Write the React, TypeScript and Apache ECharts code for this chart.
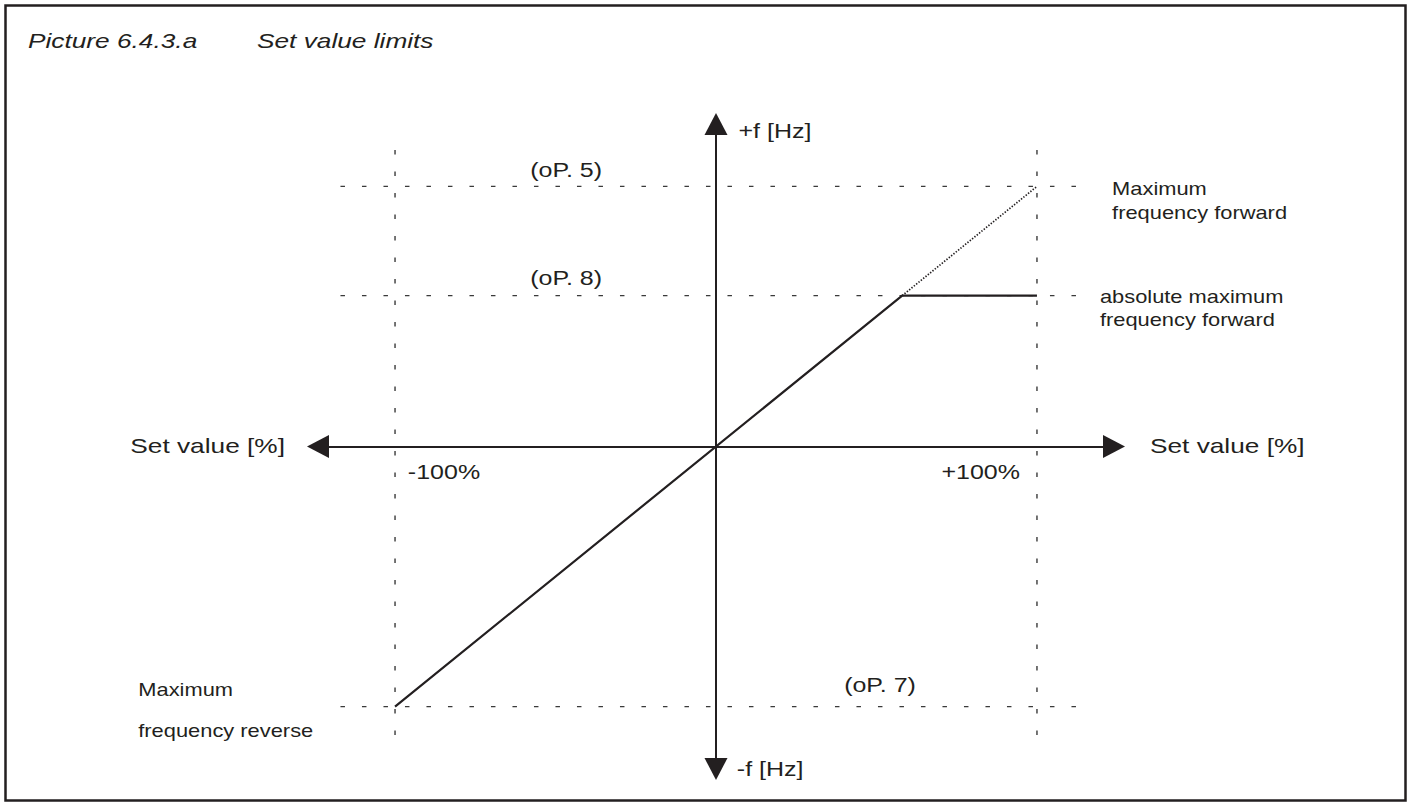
import React, { useEffect, useRef } from "react";
import * as echarts from "echarts";

// ---- data (percent of set value / percent of max frequency) ----
const axisRange = [-124, 124];
const setValueLimits = [-100, 100]; // -100% / +100%
const freqLevels = [100, 58, -100]; // oP. 5, oP. 8, oP. 7
const guideSpanX = [-117, 117];
const guideSpanY = [-117, 114];
const characteristicX = [-100, 58, 100];
const characteristicY = [-100, 58, 58];
const unlimitedX = [58, 100];
const unlimitedY = [58, 100];
const paramLabels = ["(oP. 5)", "(oP. 8)", "(oP. 7)"];
const limitLabels = ["-100%", "+100%"];
const axisTitles = ["Set value [%]", "+f [Hz]", "-f [Hz]"];

const INK = "#231f20";
const FONT = '"Liberation Sans", Arial, Helvetica, sans-serif';
const SX = 1.25;

export default function App() {
  const ref = useRef<HTMLDivElement>(null);

  useEffect(() => {
    if (!ref.current) return;
    const chart = echarts.init(ref.current, undefined, { renderer: "svg" });

    const dash = { color: "#3a3a3a", width: 1.4, type: [4.5, 17] as any };
    const guides: any[] = [];
    freqLevels.forEach((v) => {
      guides.push({
        type: "line",
        symbol: "none",
        silent: true,
        data: [
          [guideSpanX[0], v],
          [guideSpanX[1], v],
        ],
        lineStyle: dash,
        z: 1,
      });
    });
    setValueLimits.forEach((v) => {
      guides.push({
        type: "line",
        symbol: "none",
        silent: true,
        data: [
          [v, guideSpanY[1]],
          [v, guideSpanY[0]],
        ],
        lineStyle: dash,
        z: 1,
      });
    });

    const axisCommon = {
      type: "value",
      min: axisRange[0],
      max: axisRange[1],
      axisLine: {
        show: true,
        onZero: true,
        symbol: ["triangle", "triangle"],
        symbolSize: [23, 22],
        lineStyle: { color: INK, width: 2 },
      },
      axisTick: { show: false },
      axisLabel: { show: false },
      splitLine: { show: false },
    };

    chart.setOption({
      animation: false,
      backgroundColor: "#ffffff",
      grid: { left: 318, right: 297, top: 124, bottom: 36 },
      xAxis: { ...axisCommon },
      yAxis: { ...axisCommon },
      series: [
        ...guides,
        {
          type: "line",
          symbol: "none",
          silent: true,
          data: unlimitedX.map((x, i) => [x, unlimitedY[i]]),
          lineStyle: { color: INK, width: 1.7, type: [1.4, 1.6] as any },
          z: 2,
        },
        {
          type: "line",
          symbol: "none",
          silent: true,
          data: characteristicX.map((x, i) => [x, characteristicY[i]]),
          lineStyle: { color: INK, width: 2.2, type: "solid" },
          z: 3,
        },
      ],
    });

    const p = (x: number, y: number) =>
      chart.convertToPixel({ gridIndex: 0 } as any, [x, y]) as number[];

    const txt = (
      text: string,
      pos: number[],
      size: number,
      align: string,
      italic = false
    ) => ({
      type: "text",
      x: pos[0],
      y: pos[1],
      scaleX: SX,
      silent: true,
      style: {
        text,
        font: `${italic ? "italic " : ""}${size}px ${FONT}`,
        fill: INK,
        align,
        verticalAlign: "middle",
        textAlign: align,
        textVerticalAlign: "middle",
      },
    });

    chart.setOption({
      graphic: [
        {
          type: "rect",
          silent: true,
          shape: { x: 5.5, y: 5.5, width: 1400, height: 795 },
          style: { fill: "none", stroke: INK, lineWidth: 2.5 },
        },
        txt("Picture 6.4.3.a", [28, 40], 21, "left", true),
        txt("Set value limits", [257, 40], 21, "left", true),
        txt(axisTitles[0], p(-134.3, 0.2), 21, "right"),
        txt(axisTitles[0], p(135.2, 0.2), 21, "left"),
        txt(axisTitles[1], p(7, 121), 20, "left"),
        txt(axisTitles[2], p(6.5, -124), 20, "left"),
        txt(limitLabels[0], p(-96, -9.8), 20, "left"),
        txt(limitLabels[1], p(94.7, -9.8), 20, "right"),
        txt(paramLabels[0], p(-46.7, 106.3), 20, "center"),
        txt(paramLabels[1], p(-46.7, 64.8), 20, "center"),
        txt(paramLabels[2], p(51.1, -91.7), 20, "center"),
        txt("Maximum", p(123.4, 99.2), 17.5, "left"),
        txt("frequency forward", p(123.4, 89.8), 17.5, "left"),
        txt("absolute maximum", p(119.6, 57.5), 17.5, "left"),
        txt("frequency forward", p(119.6, 48.7), 17.5, "left"),
        txt("Maximum", p(-180, -93.4), 17.5, "left"),
        txt("frequency reverse", p(-180, -109.2), 17.5, "left"),
      ],
    });

    return () => chart.dispose();
  }, []);

  return (
    <div
      ref={ref}
      style={{
        position: "fixed",
        left: 0,
        top: 0,
        width: 1411,
        height: 805,
        background: "#fff",
      }}
    />
  );
}
